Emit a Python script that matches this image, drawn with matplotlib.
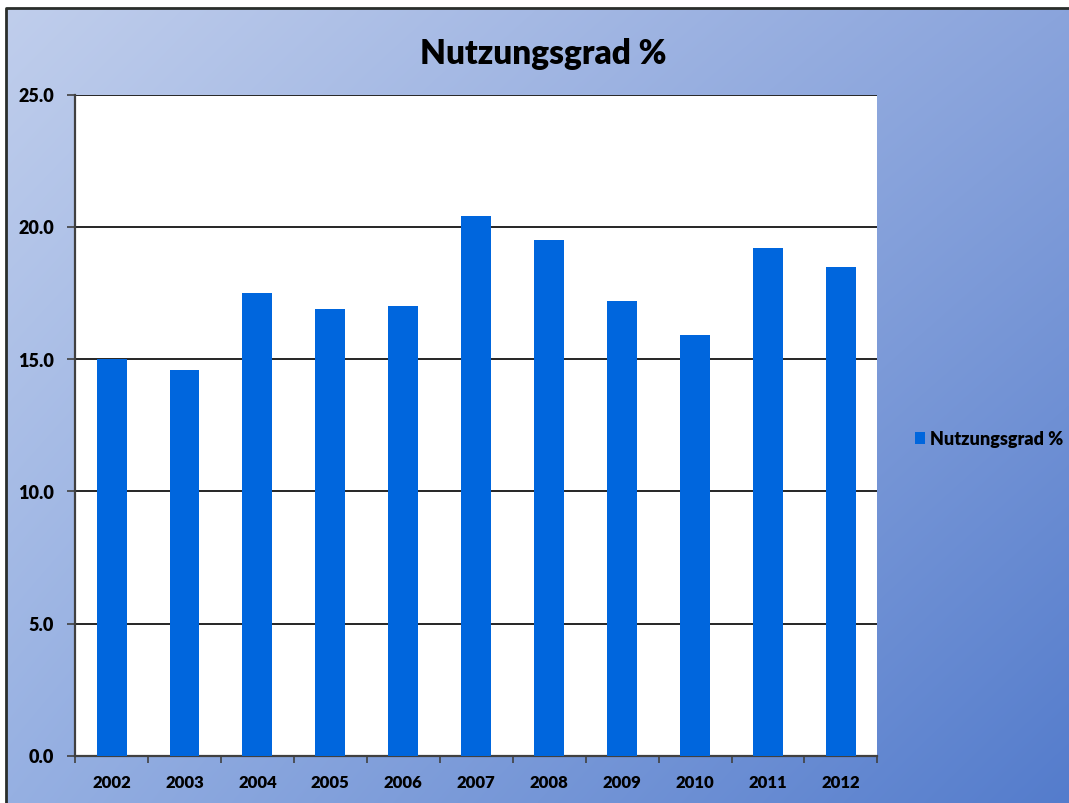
import numpy as np
import matplotlib
matplotlib.use("Agg")
import matplotlib.pyplot as plt
from matplotlib.lines import Line2D

years = ["2002", "2003", "2004", "2005", "2006", "2007", "2008", "2009", "2010", "2011", "2012"]
nutzungsgrad = [15.0, 14.6, 17.5, 16.9, 17.0, 20.4, 19.5, 17.2, 15.9, 19.2, 18.5]
y_ticks = [0, 5, 10, 15, 20, 25]

plt.rcParams['font.family'] = ['Lato', 'DejaVu Sans']

# slightly over the pixel size so the int() in the renderer gives 1069x803
fig = plt.figure(figsize=(10.695, 8.035), dpi=100)
fig.patch.set_facecolor("white")

# background gradient (top-left light, bottom-right darker blue), drawn pixel for pixel
h, w = 795, 1063
yy, xx = np.mgrid[0:1:h*1j, 0:1:w*1j]
tl = np.array([192, 206, 236]) / 255
tr = np.array([138, 164, 220]) / 255
bl = np.array([150, 176, 226]) / 255
br = np.array([84, 124, 204]) / 255
img = ((1 - xx)[..., None] * (1 - yy)[..., None] * tl + xx[..., None] * (1 - yy)[..., None] * tr
       + (1 - xx)[..., None] * yy[..., None] * bl + xx[..., None] * yy[..., None] * br)
fig.figimage(img, xo=6, yo=0, origin="upper", zorder=-10)

# dark frame line, left and top only
fig.lines.append(Line2D([0.0056, 0.0056, 1.01], [-0.01, 0.99, 0.99], transform=fig.transFigure,
                        color="#2a2e2a", linewidth=2.0, zorder=-5))

ax = fig.add_axes([0.0702, 0.0585, 0.7502, 0.8232])
ax.set_facecolor("white")
x = np.arange(len(years))
ax.bar(x, nutzungsgrad, width=0.41, color="#0066dd", zorder=3, label="Nutzungsgrad %")

ax.set_xlim(-0.5, len(years) - 0.5)
ax.set_ylim(0, 25)
ax.set_yticks(y_ticks)
ax.set_yticklabels([f"{v:.1f}" for v in y_ticks], fontsize=13, fontweight="heavy")
ax.set_xticks(x)
ax.set_xticklabels(years, fontsize=12, fontweight="heavy")
ax.set_xticks(np.arange(-0.5, len(years)), minor=True)
ax.tick_params(axis="x", which="major", length=0, pad=13)
ax.tick_params(axis="x", which="minor", length=5, color="#404040", width=1.2)
ax.tick_params(axis="y", length=6, color="#404040", width=1.2, pad=9)

ax.yaxis.grid(True, color="black", linewidth=1.2, zorder=1)
for s in ["top", "right"]:
    ax.spines[s].set_visible(False)
for s in ["left", "bottom"]:
    ax.spines[s].set_color("#404040")
    ax.spines[s].set_linewidth(1.6)

ax.set_title("Nutzungsgrad %", fontsize=24, fontweight="heavy", pad=22, x=0.584)

leg = fig.legend(loc="center left", bbox_to_anchor=(0.84, 0.453), frameon=False,
                 handlelength=0.6, handleheight=0.6, handletextpad=0.25,
                 prop={"weight": "heavy", "size": 13})

fig.savefig("out.png", dpi=100)
